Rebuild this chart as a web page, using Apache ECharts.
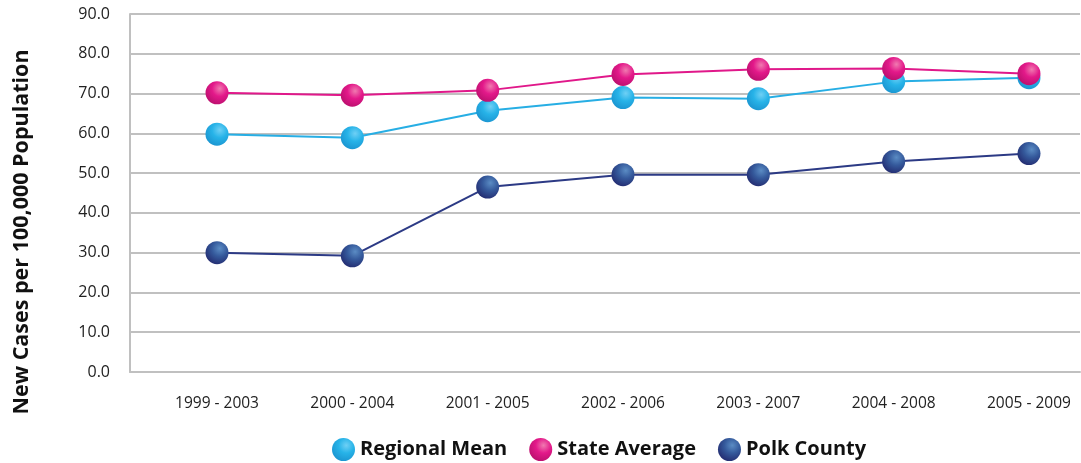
<!DOCTYPE html>
<html>
<head>
<meta charset="utf-8">
<script src="https://cdn.jsdelivr.net/npm/echarts@6/dist/echarts.min.js"></script>
<style>
  html, body { margin: 0; padding: 0; background: #fff; }
  #chart { width: 1081px; height: 463px; }
</style>
</head>
<body>
<div id="chart"></div>
<script>
var chart = echarts.init(document.getElementById('chart'));

// data
const periods = ['1999 - 2003', '2000 - 2004', '2001 - 2005', '2002 - 2006', '2003 - 2007', '2004 - 2008', '2005 - 2009'];
const regionalMean = [59.8, 58.9, 65.7, 69.0, 68.7, 73.0, 74.0];
const stateAverage = [70.2, 69.6, 70.8, 74.8, 76.1, 76.3, 75.0];
const polkCounty = [30.0, 29.2, 46.5, 49.6, 49.6, 52.9, 54.9];

function sphere(light, base, dark) {
  return new echarts.graphic.RadialGradient(0.62, 0.32, 0.75, [
    { offset: 0, color: light },
    { offset: 0.45, color: base },
    { offset: 1, color: dark }
  ]);
}

function makeSeries(name, values, lineColor, ball) {
  return {
    name: name,
    type: 'line',
    data: values.map(function (v, i) { return [i, v]; }),
    symbol: 'circle',
    symbolSize: 23,
    lineStyle: { color: lineColor, width: 2 },
    itemStyle: { color: ball },
    emphasis: { disabled: true }
  };
}

const options = {
  animation: false,
  grid: { left: 130, right: 1, top: 14, bottom: 91 },
  legend: {
    top: 433,
    left: 327,
    icon: 'circle',
    itemWidth: 23,
    itemHeight: 23,
    itemGap: 22,
    textStyle: { fontFamily: 'Open Sans', fontWeight: 'bold', fontSize: 20, color: '#111' },
    data: ['Regional Mean', 'State Average', 'Polk County']
  },
  xAxis: {
    type: 'value',
    min: -0.643,
    max: 6.377,
    splitLine: { show: false },
    axisTick: { show: false },
    axisLine: { show: true, lineStyle: { color: '#c0c0c0', width: 2 } },
    axisLabel: {
      customValues: [0, 1, 2, 3, 4, 5, 6],
      margin: 24,
      fontFamily: 'Open Sans',
      fontSize: 15.5,
      color: '#222',
      formatter: function (v) { return periods[Math.round(v)] || ''; }
    }
  },
  yAxis: {
    type: 'value',
    min: 0,
    max: 90,
    interval: 10,
    axisLine: { show: true, onZero: false, lineStyle: { color: '#c0c0c0', width: 2 } },
    axisTick: { show: false },
    splitLine: { lineStyle: { color: '#c0c0c0', width: 2 } },
    axisLabel: {
      margin: 20,
      fontFamily: 'Open Sans',
      fontSize: 16,
      color: '#222',
      formatter: function (v) { return v.toFixed(1); }
    }
  },
  graphic: [{
    type: 'text',
    x: 22,
    y: 232,
    rotation: Math.PI / 2,
    style: {
      text: 'New Cases per 100,000 Population',
      fontFamily: 'Open Sans',
      fontWeight: 'bold',
      fontSize: 21.5,
      fill: '#111',
      align: 'center',
      verticalAlign: 'middle'
    }
  }],
  series: [
    makeSeries('Regional Mean', regionalMean, '#27aee4', sphere('#6fd0f5', '#27b3e8', '#1a93cf')),
    makeSeries('State Average', stateAverage, '#e0188a', sphere('#f07ab0', '#e3198a', '#b80f6c')),
    makeSeries('Polk County', polkCounty, '#2c3a85', sphere('#5b8cc4', '#355a9c', '#22296e'))
  ]
};
chart.setOption(options);
</script>
</body>
</html>
